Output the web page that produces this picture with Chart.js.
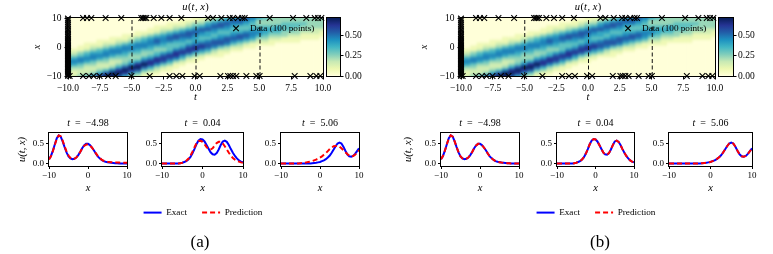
<!DOCTYPE html>
<html><head><meta charset="utf-8">
<script src="https://cdn.jsdelivr.net/npm/chart.js@4.4.1/dist/chart.umd.min.js"></script>
<style>
html,body{margin:0;padding:0;background:#fff;}
#page{position:relative;width:773px;height:254px;overflow:hidden;background:#fff;}
#page canvas{position:absolute;}
.cap{position:absolute;font-family:"Liberation Serif",serif;font-size:17px;color:#000;transform:translate(-50%,-50%);white-space:nowrap;line-height:1;}
</style></head><body><div id="page"></div>
<script>
// ---------------- DATA ----------------
// heatmap grid: time columns (t) and space rows (x, top to bottom)
const tGrid = [-10,-9.5,-9,-8.5,-8,-7.5,-7,-6.5,-6,-5.5,-5,-4.5,-4,-3.5,-3,-2.5,-2,-1.5,-1,-0.5,0,0.5,1,1.5,2,2.5,3,3.5,4,4.5,5,5.5,6,6.5,7,7.5,8,8.5,9,9.5,10];
const xGrid = [10,9,8,7,6,5,4,3,2,1,0,-1,-2,-3,-4,-5,-6,-7,-8,-9,-10];
// u(t,x) levels, one string per t column (x = 10 ... -10), level k => u = k*0.078
const heatColumns = [
"000000000001134664321","000000000001235653212","000000000011346643223","000000000112456532224",
"000000000123566432236","000000001124565322358","000000001235664322479","000000011246653223699",
"000000012356643235897","000000112466543347985","000000123566433469863","000001134665433589742",
"000001245664335797421","000011356654346885311","000112467643458863210","000123566543578742100",
"001124676444687531100","001235775446886311000","011246765457864210000","012357764578742100000",
"113467655688531100000","123576545786421000000","135675546775310000000","246765457763210000000",
"357754567742110000000","467654577632100000000","576545676421000000000","676445775321000000000",
"765446764210000000000","654456653110000000000","533456532100000000000","433455432100000000000",
"333454321100000000000","333554321000000000000","334443311000000000000","334443211000000000000",
"334433211000000000000","334332110000000000000","333332110000000000000","333322110000000000000",
"333321100000000000000"];
const heatLevelStep = 0.078;
const colorbarMax = 0.71;
const colorbarTicks = [0, 0.25, 0.5];
const heatTTicks = [-10,-7.5,-5,-2.5,0,2.5,5,7.5,10];
const heatXTicks = [-10,0,10];
const sliceTimes = [-4.98, 0.04, 5.06];
// training data (100 points)
const dataTopT = [-8.82,-8.51,-8.17,-7.05,-5.82,-4.25,-4.12,-3.99,-3.86,-3.28,-2.68,-2.03,-1.11,0.98,1.37,2.03,2.68,2.94,3.33,3.67,3.86,5.82,7.65,8.69,9.35,9.61,9.87];
const dataBottomT = [-9.87,-8.82,-8.35,-7.99,-7.52,-6.86,-6.26,-5.03,-3.59,-2.03,-1.5,-1.03,-0.07,0.33,1.95,2.55,2.73,2.94,3.2,3.99,4.77,5.03,7.78,9.01,9.48,9.79];
const dataLeftX = [-9.9,-9.6,-9.3,-8.9,-8.6,-8.2,-7.8,-7.5,-7.1,-6.8,-6.4,-6.0,-5.7,-5.3,-4.9,-4.6,-4.2,-3.9,-3.5,-3.1,-2.8,-2.4,-2.1,-1.7,-1.3,-1.0,-0.6,-0.2,0.2,0.5,0.9,1.3,1.6,2.0,2.5,2.9,3.4,3.9,4.5,5.1,5.8,6.4,7.1,7.8,8.5,9.2,9.8];
// slice profiles
const profileX = [-10,-9.5,-9,-8.5,-8,-7.5,-7,-6.5,-6,-5.5,-5,-4.5,-4,-3.5,-3,-2.5,-2,-1.5,-1,-0.5,0,0.5,1,1.5,2,2.5,3,3.5,4,4.5,5,5.5,6,6.5,7,7.5,8,8.5,9,9.5,10];
const exact1 = [.11,.19,.32,.48,.63,.70,.67,.55,.41,.28,.18,.13,.11,.12,.15,.21,.29,.38,.45,.49,.49,.46,.40,.33,.25,.18,.13,.09,.06,.045,.035,.025,.02,.015,.01,.01,.005,.005,0,0,0];
const exact2 = [0,0,0,0,0,0,0,0,0,.01,.02,.04,.06,.10,.16,.25,.36,.48,.57,.61,.60,.55,.46,.37,.28,.23,.22,.26,.35,.46,.55,.57,.54,.46,.36,.27,.19,.13,.08,.05,.03];
const exact3 = [0,0,0,0,0,0,0,0,0,0,0,0,0,0,0,.005,.01,.015,.02,.03,.04,.06,.08,.11,.15,.20,.27,.35,.43,.50,.52,.50,.42,.32,.23,.18,.17,.19,.24,.31,.38];
const predA1 = [.10,.18,.31,.47,.62,.70,.68,.57,.43,.30,.20,.14,.11,.12,.15,.21,.29,.37,.44,.47,.48,.45,.40,.33,.26,.19,.14,.10,.07,.055,.045,.04,.035,.03,.03,.025,.025,.02,.02,.02,.02];
const predA2 = [0,0,0,0,0,0,0,0,0,.01,.02,.04,.07,.12,.19,.29,.40,.50,.56,.57,.54,.48,.41,.36,.35,.38,.45,.51,.54,.54,.50,.43,.35,.27,.20,.14,.10,.07,.05,.03,.02];
const predA3 = [0,0,0,0,0,0,0,0,0,.005,.01,.015,.02,.03,.04,.05,.06,.08,.10,.12,.15,.18,.22,.26,.31,.36,.40,.43,.44,.44,.42,.38,.33,.28,.24,.20,.18,.19,.22,.27,.33];
const predB1 = [.11,.19,.32,.48,.63,.70,.67,.55,.41,.28,.18,.13,.11,.12,.15,.21,.29,.38,.45,.49,.49,.46,.40,.33,.25,.18,.13,.09,.06,.045,.035,.025,.02,.015,.01,.01,.005,.005,0,0,0];
const predB2 = [0,0,0,0,0,0,0,0,0,.01,.02,.04,.06,.10,.16,.25,.36,.48,.57,.61,.60,.55,.46,.37,.28,.23,.22,.26,.35,.46,.55,.57,.54,.46,.36,.27,.19,.13,.08,.05,.03];
const predB3 = [0,0,0,0,0,0,0,0,0,0,0,0,0,0,0,.005,.01,.015,.02,.03,.04,.06,.08,.11,.15,.20,.27,.35,.43,.50,.52,.50,.42,.32,.23,.18,.17,.19,.24,.31,.37];
const lineXTicks = [-10, 0, 10];
const lineYTicks = [0, 0.5];
const sliceTitles = ['−4.98', '0.04', '5.06'];
const seriesNames = ['Exact', 'Prediction'];

// ---------------- STYLE / HELPERS ----------------
const F = '"Liberation Serif", "Times New Roman", serif';
Chart.defaults.color = '#000';
Chart.defaults.font.family = F;
const YLGNBU = ['#ffffd9','#edf8b1','#c7e9b4','#7fcdbb','#41b6c4','#1d91c0','#225ea8','#253494','#081d58'];
function hex(c){return [parseInt(c.slice(1,3),16),parseInt(c.slice(3,5),16),parseInt(c.slice(5,7),16)];}
const YL = YLGNBU.map(hex);
function cmap(f){
  f = Math.max(0, Math.min(1, f));
  const p = f*(YL.length-1), i = Math.min(YL.length-2, Math.floor(p)), u = p - i;
  const a = YL[i], b = YL[i+1];
  return 'rgb(' + [0,1,2].map(k => Math.round(a[k] + (b[k]-a[k])*u)).join(',') + ')';
}
function levelAt(i, r){ const s = heatColumns[i] || ''; const d = parseInt(s.charAt(r), 10); return isNaN(d) ? 0 : d; }
function cellColor(i, r){ return cmap(levelAt(i, r)*heatLevelStep/colorbarMax); }
function fmt(v, d){ return (v < 0 ? '−' : '') + Math.abs(v).toFixed(d); }
const page = document.getElementById('page');
function mkCanvas(left, top, w, h){
  const c = document.createElement('canvas');
  c.width = w; c.height = h; c.style.left = left + 'px'; c.style.top = top + 'px';
  c.style.width = w + 'px'; c.style.height = h + 'px';
  page.appendChild(c); return c;
}
function caption(text, x, y){
  const d = document.createElement('div'); d.className = 'cap'; d.textContent = text;
  d.style.left = x + 'px'; d.style.top = y + 'px'; page.appendChild(d);
}

const framePlugin = {
  id: 'frame',
  afterDatasetsDraw(chart, args, opts){
    if (!opts || !opts.on) return;
    const a = chart.chartArea, c = chart.ctx;
    const l = Math.round(a.left), r = Math.round(a.right), t = Math.round(a.top), b = Math.round(a.bottom);
    c.save(); c.strokeStyle = '#000'; c.lineWidth = 1; c.setLineDash([]);
    c.strokeRect(l - 0.5, t - 0.5, r - l + 1, b - t + 1);
    c.restore();
  }
};
const runTitlePlugin = {
  id: 'runTitle',
  afterDraw(chart, args, opts){
    if (!opts || !opts.runs) return;
    const c = chart.ctx, a = chart.chartArea;
    c.save(); c.fillStyle = '#000'; c.textBaseline = 'middle'; c.textAlign = 'left';
    const fonts = opts.runs.map(r => (r.i ? 'italic ' : '') + opts.size + 'px ' + F);
    const ws = opts.runs.map((r, k) => { c.font = fonts[k]; return c.measureText(r.t).width + (r.sp || 0); });
    let x = (a.left + a.right)/2 - ws.reduce((s, w) => s + w, 0)/2;
    const y = a.top - opts.dy;
    opts.runs.forEach((r, k) => { c.font = fonts[k]; c.fillText(r.t, x, y); x += ws[k]; });
    c.restore();
  }
};
const dataKeyPlugin = {
  id: 'dataKey',
  afterDraw(chart, args, opts){
    if (!opts || !opts.text) return;
    const c = chart.ctx, a = chart.chartArea;
    const mx = a.right - opts.markerFromRight, my = a.top + opts.dy, h = 2.8;
    c.save(); c.strokeStyle = '#000'; c.lineWidth = 1.1;
    c.beginPath(); c.moveTo(mx-h, my-h); c.lineTo(mx+h, my+h); c.moveTo(mx-h, my+h); c.lineTo(mx+h, my-h); c.stroke();
    c.fillStyle = '#000'; c.font = opts.size + 'px ' + F; c.textBaseline = 'middle'; c.textAlign = 'left';
    c.fillText(opts.text, a.right - opts.textFromRight, my);
    c.restore();
  }
};
Chart.register(framePlugin, runTitlePlugin, dataKeyPlugin);

function axis(o){
  const hide = !!o.hidden;
  return {
    type: 'linear', min: o.min, max: o.max, position: o.position, offset: false,
    afterBuildTicks: s => { s.ticks = o.ticks.map(v => ({value: v})); },
    afterFit: s => { if (s.isHorizontal()) s.height = o.size; else s.width = o.size; },
    ticks: {display: !hide, autoSkip: false, maxRotation: 0, minRotation: 0, padding: o.pad, font: {family: F, size: o.fs || 9.5}, color: '#000', callback: v => fmt(v, o.dec)},
    grid: {display: !hide, drawOnChartArea: false, drawTicks: true, tickLength: o.tl, color: '#000', tickColor: '#000', lineWidth: 1, offset: false},
    border: {display: false},
    title: (o.title && !hide) ? {display: true, text: o.title, color: '#000', font: {family: F, size: 10.5, style: 'italic'}, padding: o.titlePad} : {display: false}
  };
}
const base = {responsive: false, maintainAspectRatio: false, animation: false, devicePixelRatio: 1, events: []};

function heatmap(left, width, pl, pr, wy){
  const H = 106, TOP = 18, XH = 30;
  const xAx = (hidden) => axis({hidden, min: -10, max: 10, position: 'bottom', ticks: heatTTicks, dec: 1, size: XH, pad: 3, tl: 3.5, title: 't', titlePad: {top: 0, bottom: 2}});
  const yAx = (hidden) => axis({hidden, min: -10, max: 10, position: 'left', ticks: heatXTicks, dec: 0, size: wy, pad: 3, tl: 3.5, title: 'x', titlePad: 0});
  // layer 1: colour field, one bar per t column with its vertical profile from the column's levels
  const cells = mkCanvas(left, 0, width, H);
  cells.style.filter = 'blur(1.3px)';
  cells.style.clipPath = 'inset(' + TOP + 'px ' + pr + 'px ' + XH + 'px ' + (pl + wy) + 'px)';
  new Chart(cells, {
    type: 'bar',
    data: {datasets: [{
      data: tGrid.map(t => ({x: t, y: [xGrid[xGrid.length-1] - 0.8, xGrid[0] + 0.8]})),
      backgroundColor: (ctx) => {
        const ch = ctx.chart, ys = ch.scales && ch.scales.y;
        const i = ctx.dataIndex;
        if (!ys || !ch.chartArea || i == null) return cellColor(0, 0);
        const y0 = ys.getPixelForValue(xGrid[0]), y1 = ys.getPixelForValue(xGrid[xGrid.length-1]);
        const g = ch.ctx.createLinearGradient(0, y0, 0, y1);
        xGrid.forEach((xv, r) => g.addColorStop((ys.getPixelForValue(xv) - y0)/(y1 - y0), cellColor(i, r)));
        return g;
      },
      borderWidth: 0, barPercentage: 1.1, categoryPercentage: 1, grouped: false, clip: 5
    }]},
    options: Object.assign({}, base, {
      layout: {padding: {left: pl, right: pr, top: TOP, bottom: 0}},
      scales: {x: xAx(true), y: yAx(true)},
      plugins: {legend: {display: false}, tooltip: {enabled: false}}
    })
  });
  // layer 2: axes, slices, training points
  const cv = mkCanvas(left, 0, width, H);
  const datasets = [];
  sliceTimes.forEach(t => datasets.push({
    type: 'line', order: 2, data: [{x: t, y: -10}, {x: t, y: 10}],
    borderColor: '#111', borderWidth: 1, borderDash: [4, 2.5], pointRadius: 0, clip: 0
  }));
  const pts = dataTopT.map(t => ({x: t, y: 10}))
    .concat(dataBottomT.map(t => ({x: t, y: -10})))
    .concat(dataLeftX.map(x => ({x: -10, y: x})));
  datasets.push({type: 'scatter', order: 1, data: pts, pointStyle: 'crossRot', pointRadius: 4,
    borderColor: '#000', backgroundColor: '#000', borderWidth: 1.1, clip: false});
  new Chart(cv, {
    type: 'scatter',
    data: {datasets},
    options: Object.assign({}, base, {
      layout: {padding: {left: pl, right: pr, top: TOP, bottom: 0}},
      scales: {x: xAx(false), y: yAx(false)},
      plugins: {
        legend: {display: false}, tooltip: {enabled: false},
        frame: {on: true},
        runTitle: {runs: [{t: 'u', i: 1, sp: 0.5}, {t: '('}, {t: 't', i: 1, sp: 0.5}, {t: ', '}, {t: 'x', i: 1, sp: 0.5}, {t: ')'}], size: 10.5, dy: 11},
        dataKey: {text: 'Data (100 points)', markerFromRight: 87, textFromRight: 73, dy: 10.3, size: 9.2}
      }
    })
  });
}

function colorbar(left, width, pl, wy){
  const cv = mkCanvas(left, 0, width, 106);
  new Chart(cv, {
    type: 'bar',
    data: {labels: ['u'], datasets: [{
      data: [[0, colorbarMax]], borderWidth: 0, barPercentage: 1, categoryPercentage: 1,
      backgroundColor: (ctx) => {
        const a = ctx.chart.chartArea;
        if (!a) return YLGNBU[4];
        const g = ctx.chart.ctx.createLinearGradient(0, a.bottom, 0, a.top);
        YLGNBU.forEach((c, i) => g.addColorStop(i/(YLGNBU.length-1), c));
        return g;
      }
    }]},
    options: Object.assign({}, base, {
      layout: {padding: {left: pl, right: 0, top: 18, bottom: 30}},
      scales: {
        x: {display: false},
        y: axis({min: 0, max: colorbarMax, position: 'right', ticks: colorbarTicks, dec: 2, size: wy, pad: 1.5, tl: 3.5})
      },
      plugins: {legend: {display: false}, tooltip: {enabled: false}, frame: {on: true}}
    })
  });
}

function linePlot(left, width, pl, pr, wy, exact, pred, k, ylabel){
  const cv = mkCanvas(left, 110, width, 90);
  new Chart(cv, {
    type: 'line',
    data: {datasets: [
      {label: seriesNames[0], order: 2, data: profileX.map((x, i) => ({x, y: exact[i]})), borderColor: '#0000ff', borderWidth: 2, pointRadius: 0, tension: 0, fill: false},
      {label: seriesNames[1], order: 1, data: profileX.map((x, i) => ({x, y: pred[i]})), borderColor: '#ff0000', borderWidth: 2, borderDash: [5, 3], pointRadius: 0, tension: 0, fill: false}
    ]},
    options: Object.assign({}, base, {
      layout: {padding: {left: pl, right: pr, top: 23, bottom: 0}},
      scales: {
        x: axis({min: -10, max: 10, position: 'bottom', ticks: lineXTicks, dec: 0, size: 34, pad: 1.5, tl: 3, fs: 9, title: 'x', titlePad: {top: 0, bottom: 5}}),
        y: axis({min: -0.06, max: 0.76, position: 'left', ticks: lineYTicks, dec: 1, size: wy, pad: 2, tl: 3, fs: 9, title: ylabel || null, titlePad: 0})
      },
      plugins: {
        legend: {display: false}, tooltip: {enabled: false}, frame: {on: true},
        runTitle: {runs: [{t: 't', i: 1}, {t: '\u2002=\u2002' + sliceTitles[k]}], size: 10, dy: 10}
      }
    })
  });
}

function legendChart(center){
  const w = 220;
  const cv = mkCanvas(Math.round(center - w/2), 193, w, 46);
  new Chart(cv, {
    type: 'line',
    data: {datasets: [
      {label: seriesNames[0], data: [], borderColor: '#0000ff', backgroundColor: '#0000ff', borderWidth: 2},
      {label: seriesNames[1], data: [], borderColor: '#ff0000', backgroundColor: '#ff0000', borderWidth: 2, borderDash: [5, 3]}
    ]},
    options: Object.assign({}, base, {
      scales: {x: {display: false}, y: {display: false}},
      plugins: {tooltip: {enabled: false}, legend: {display: true, position: 'top', align: 'center',
        labels: {usePointStyle: true, pointStyle: 'line', pointStyleWidth: 18, padding: 15, color: '#000', font: {family: F, size: 9.2},
          generateLabels: (chart) => chart.data.datasets.map((ds, i) => ({
            text: ds.label, datasetIndex: i, hidden: false, fontColor: '#000',
            strokeStyle: ds.borderColor, fillStyle: 'rgba(0,0,0,0)', lineWidth: ds.borderWidth,
            lineDash: ds.borderDash || [], lineDashOffset: 0, lineCap: 'butt', pointStyle: 'line', rotation: 0
          }))}}}
    })
  });
}

// ---------------- PANEL (a) ----------------
heatmap(0, 386, 30.6, 63, 37.4);
colorbar(320, 66, 7, 46);
linePlot(0, 160, 15.6, 33, 33.4, exact1, predA1, 0, 'u(t, x)');
linePlot(130, 130, 0, 17, 32, exact2, predA2, 1);
linePlot(250, 125, 0, 16, 31, exact3, predA3, 2);
legendChart(202.5);
caption('(a)', 200, 241);
// ---------------- PANEL (b) ----------------
heatmap(386, 387, 31.6, 58, 43.4);
colorbar(712, 61, 7, 40);
linePlot(386, 150, 15.6, 17, 39.4, exact1, predB1, 0, 'u(t, x)');
linePlot(525, 125, 0, 16, 32, exact2, predB2, 1);
linePlot(637, 136, 0, 21, 32, exact3, predB3, 2);
legendChart(596);
caption('(b)', 600, 241);
</script></body></html>
